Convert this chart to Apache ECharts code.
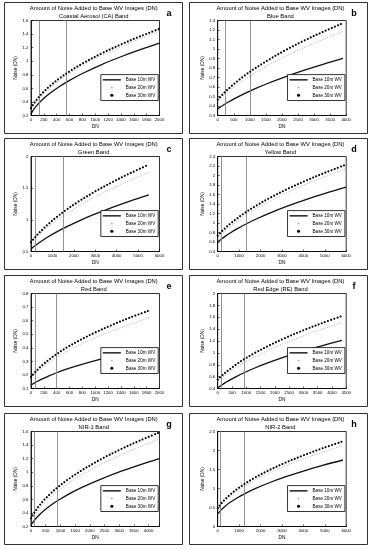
<!DOCTYPE html>
<html><head><meta charset="utf-8">
<script src="https://cdn.jsdelivr.net/npm/echarts@6/dist/echarts.min.js"></script>
<style>html,body{margin:0;padding:0;background:#fff}#c{width:373px;height:550px}</style>
</head><body><div id="c"></div>
<script>
const titleLine1 = 'Amount of Noise Added to Base WV Images (DN)';
const bandNames = ['Coastal Aerosol (CA) Band','Blue Band','Green Band','Yellow Band','Red Band','Red Edge (RE) Band','NIR-1 Band','NIR-2 Band'];
const panelLetters = ['a','b','c','d','e','f','g','h'];
const seriesNames = ['Base 10m WV','Base 20m WV','Base 30m WV'];
const xAxisName = 'DN';
const yAxisName = 'Noise (DN)';

// Panel a
const dnA = [0, 20, 60, 120, 200, 300, 450, 600, 800, 1100, 1400, 1700, 2000];
const a10 = [0.225, 0.257, 0.312, 0.379, 0.454, 0.532, 0.632, 0.718, 0.819, 0.951, 1.066, 1.170, 1.266];
const a20 = [0.270, 0.305, 0.365, 0.439, 0.522, 0.611, 0.723, 0.820, 0.934, 1.083, 1.214, 1.332, 1.440];
const a30 = [0.310, 0.342, 0.398, 0.470, 0.552, 0.639, 0.752, 0.850, 0.965, 1.115, 1.247, 1.367, 1.477];
const xRangeA = [0, 2000, 200], yRangeA = [0.2, 1.6, 0.2], vA = [130, 550];
// Panel b
const dnB = [0, 40, 120, 240, 400, 600, 850, 1150, 1550, 2100, 2700, 3300, 3900];
const b10 = [0.370, 0.379, 0.397, 0.423, 0.454, 0.491, 0.533, 0.580, 0.637, 0.707, 0.777, 0.841, 0.901];
const b20 = [0.450, 0.463, 0.489, 0.526, 0.571, 0.622, 0.681, 0.746, 0.825, 0.922, 1.017, 1.104, 1.185];
const b30 = [0.467, 0.482, 0.511, 0.552, 0.601, 0.658, 0.723, 0.794, 0.880, 0.986, 1.090, 1.184, 1.272];
const xRangeB = [0, 4000, 500], yRangeB = [0.3, 1.3, 0.1], vB = [230, 1000];
// Panel c
const dnC = [0, 55, 165, 330, 550, 825, 1200, 1650, 2200, 3000, 3800, 4650, 5500];
const c10 = [0.542, 0.557, 0.586, 0.627, 0.677, 0.736, 0.809, 0.888, 0.977, 1.093, 1.197, 1.300, 1.394];
const c20 = [0.640, 0.661, 0.700, 0.754, 0.822, 0.899, 0.994, 1.098, 1.213, 1.362, 1.497, 1.628, 1.750];
const c30 = [0.647, 0.671, 0.715, 0.777, 0.853, 0.939, 1.045, 1.159, 1.285, 1.449, 1.596, 1.739, 1.871];
const xRangeC = [0, 6000, 1000], yRangeC = [0.5, 2, 0.5], vC = [220, 1520];
// Panel d
const dnD = [0, 60, 180, 360, 600, 900, 1300, 1800, 2400, 3250, 4150, 5050, 6000];
const d10 = [0.600, 0.622, 0.664, 0.723, 0.795, 0.876, 0.974, 1.084, 1.203, 1.354, 1.497, 1.627, 1.754];
const d20 = [0.678, 0.708, 0.764, 0.841, 0.934, 1.038, 1.163, 1.303, 1.452, 1.641, 1.820, 1.982, 2.141];
const d30 = [0.733, 0.762, 0.819, 0.896, 0.990, 1.096, 1.224, 1.366, 1.520, 1.714, 1.898, 2.066, 2.230];
const xRangeD = [0, 6000, 1000], yRangeD = [0.4, 2.4, 0.2], vD = [170, 1320];
// Panel e
const dnE = [0, 20, 55, 110, 185, 280, 400, 550, 740, 1000, 1270, 1550, 1850];
const e10 = [0.125, 0.131, 0.141, 0.155, 0.173, 0.193, 0.216, 0.242, 0.271, 0.306, 0.339, 0.369, 0.400];
const e20 = [0.180, 0.190, 0.207, 0.231, 0.261, 0.294, 0.330, 0.371, 0.418, 0.474, 0.526, 0.574, 0.623];
const e30 = [0.184, 0.196, 0.216, 0.243, 0.276, 0.313, 0.354, 0.400, 0.451, 0.513, 0.570, 0.624, 0.676];
const xRangeE = [0, 2000, 200], yRangeE = [0.1, 0.8, 0.1], vE = [60, 400];
// Panel f
const dnF = [0, 45, 130, 260, 435, 650, 940, 1300, 1750, 2400, 3050, 3700, 4350];
const f10 = [0.410, 0.426, 0.455, 0.495, 0.546, 0.601, 0.669, 0.745, 0.830, 0.940, 1.038, 1.127, 1.210];
const f20 = [0.520, 0.539, 0.575, 0.625, 0.686, 0.755, 0.839, 0.933, 1.039, 1.174, 1.296, 1.407, 1.510];
const f30 = [0.550, 0.571, 0.610, 0.664, 0.731, 0.806, 0.897, 0.998, 1.112, 1.259, 1.390, 1.509, 1.620];
const xRangeF = [0, 4500, 500], yRangeF = [0.4, 2, 0.2], vF = [130, 940];
// Panel g
const dnG = [0, 45, 130, 260, 435, 650, 900, 1300, 1750, 2400, 3050, 3700, 4360];
const g10 = [0.220, 0.251, 0.300, 0.362, 0.433, 0.506, 0.579, 0.681, 0.779, 0.902, 1.011, 1.108, 1.200];
const g20 = [0.270, 0.308, 0.370, 0.448, 0.536, 0.627, 0.718, 0.844, 0.966, 1.120, 1.254, 1.376, 1.489];
const g30 = [0.320, 0.357, 0.417, 0.496, 0.586, 0.680, 0.775, 0.906, 1.034, 1.196, 1.338, 1.466, 1.585];
const xRangeG = [0, 4370, 500], yRangeG = [0.2, 1.6, 0.2], vG = [110, 900];
// Panel h
const dnH = [0, 60, 175, 350, 585, 880, 1250, 1750, 2350, 3150, 4000, 4900, 5850];
const h10 = [0.330, 0.373, 0.444, 0.535, 0.636, 0.744, 0.860, 0.996, 1.138, 1.304, 1.459, 1.607, 1.750];
const h20 = [0.450, 0.497, 0.576, 0.680, 0.797, 0.924, 1.062, 1.225, 1.394, 1.593, 1.779, 1.958, 2.130];
const h30 = [0.480, 0.528, 0.611, 0.719, 0.842, 0.975, 1.120, 1.290, 1.468, 1.676, 1.872, 2.060, 2.241];
const xRangeH = [0, 6000, 1000], yRangeH = [0, 2.5, 0.5], vH = [140, 1250];

const panels = [
  {dn: dnA, s: [a10, a20, a30], x: xRangeA, y: yRangeA, v: vA},
  {dn: dnB, s: [b10, b20, b30], x: xRangeB, y: yRangeB, v: vB},
  {dn: dnC, s: [c10, c20, c30], x: xRangeC, y: yRangeC, v: vC},
  {dn: dnD, s: [d10, d20, d30], x: xRangeD, y: yRangeD, v: vD},
  {dn: dnE, s: [e10, e20, e30], x: xRangeE, y: yRangeE, v: vE},
  {dn: dnF, s: [f10, f20, f30], x: xRangeF, y: yRangeF, v: vF},
  {dn: dnG, s: [g10, g20, g30], x: xRangeG, y: yRangeG, v: vG},
  {dn: dnH, s: [h10, h20, h30], x: xRangeH, y: yRangeH, v: vH}
];

const W = 373, H = 550;
const colX = [4, 189], rowY = [2, 138, 275, 413], PW = 178, PH = 131;
const FONT = 'Liberation Sans';
const ICONS = [
  'path://M0,0M18,5.5M0,2.05L18,2.05L18,3.45L0,3.45Z',
  'path://M0,0M18,5.5M8.3,2.05L9.7,2.05L9.7,3.45L8.3,3.45Z',
  'path://M0,0M18,5.5M9,1.25A1.5,1.5,0,1,1,9,4.25A1.5,1.5,0,1,1,9,1.25Z'
];
const SERIES_STYLE = [
  {color: '#111', lineStyle: {color: '#111', width: 1.3, type: 'solid'}},
  {color: '#999', lineStyle: {color: '#999', width: 0.9, type: [0.9, 1.6]}},
  {color: '#000', lineStyle: {color: '#000', width: 2.1, type: [0.01, 3.3], cap: 'round'}}
];

const option = {animation: false, backgroundColor: '#fff', grid: [], xAxis: [], yAxis: [], series: [], legend: [], graphic: []};

panels.forEach((p, i) => {
  const c = i % 2, r = Math.floor(i / 2);
  const px = colX[c], py = rowY[r];
  const gl = px + (c ? 28.7 : 27), gt = py + 18.5, gw = 128.5, gh = 95;
  option.graphic.push({type: 'rect', silent: true, z: -10,
    shape: {x: px + 0.5, y: py + 0.5, width: PW, height: PH},
    style: {fill: '#fff', stroke: '#333', lineWidth: 1}});
  option.graphic.push({type: 'text', silent: true, x: gl + gw / 2 - 1.5, y: py + 6.3,
    style: {text: titleLine1, fontSize: 5.8, fontFamily: FONT, fill: '#000', align: 'center', verticalAlign: 'middle', textAlign: 'center', textVerticalAlign: 'middle'}});
  option.graphic.push({type: 'text', silent: true, x: gl + gw / 2 - 1.5, y: py + 14,
    style: {text: bandNames[i], fontSize: 5.8, fontFamily: FONT, fill: '#000', align: 'center', verticalAlign: 'middle', textAlign: 'center', textVerticalAlign: 'middle'}});
  option.graphic.push({type: 'text', silent: true, x: px + 165, y: py + 11.5,
    style: {text: panelLetters[i], fontSize: 9, fontWeight: 'bold', fontFamily: FONT, fill: '#000', align: 'center', verticalAlign: 'middle', textAlign: 'center', textVerticalAlign: 'middle'}});

  option.grid.push({left: gl, top: gt, width: gw, height: gh, show: true, borderColor: '#000', borderWidth: 0.8, backgroundColor: '#fff'});
  const xr = p.x, yr = p.y;
  option.xAxis.push({gridIndex: i, type: 'value', min: xr[0], max: xr[1], interval: xr[2],
    axisLine: {show: true, onZero: false, lineStyle: {color: '#000', width: 0.8}},
    axisTick: {show: true, inside: true, length: 2, lineStyle: {color: '#000', width: 0.6}},
    axisLabel: {fontSize: 4.3, color: '#000', margin: 2.5, fontFamily: FONT,
      formatter: v => (Math.abs(v / xr[2] - Math.round(v / xr[2])) < 1e-6 ? String(v) : '')},
    splitLine: {show: false},
    name: xAxisName, nameLocation: 'middle', nameGap: 8.5,
    nameTextStyle: {fontSize: 4.8, color: '#000', fontFamily: FONT}});
  option.yAxis.push({gridIndex: i, type: 'value', min: yr[0], max: yr[1], interval: yr[2],
    axisLine: {show: true, onZero: false, lineStyle: {color: '#000', width: 0.8}},
    axisTick: {show: true, inside: true, length: 2, lineStyle: {color: '#000', width: 0.6}},
    axisLabel: {fontSize: 4.3, color: '#000', margin: 2.5, fontFamily: FONT},
    splitLine: {show: false},
    name: yAxisName, nameLocation: 'middle', nameGap: 9, nameRotate: 90,
    nameTextStyle: {fontSize: 4.8, color: '#000', fontFamily: FONT}});

  p.s.forEach((vals, k) => {
    const st = SERIES_STYLE[k];
    const ser = {type: 'line', name: seriesNames[k], xAxisIndex: i, yAxisIndex: i,
      data: p.dn.map((d, j) => [d, vals[j]]),
      showSymbol: false, symbol: 'none', smooth: 0.35, silent: true,
      itemStyle: {color: st.color}, lineStyle: st.lineStyle, z: 3 + k};
    if (k === 0) {
      ser.markLine = {silent: true, symbol: ['none', 'none'], label: {show: false},
        lineStyle: {color: '#888', width: 0.9, type: 'solid'},
        data: p.v.map(x => ({xAxis: x}))};
    }
    option.series.push(ser);
  });

  option.legend.push({orient: 'vertical', right: W - (gl + gw) + 1.3, bottom: H - (gt + gh) + 15,
    padding: [2.5, 3, 2.5, 2], itemGap: 2.2, itemWidth: 18, itemHeight: 5.5, itemTextGap: 2,
    borderColor: '#000', borderWidth: 0.8, backgroundColor: '#fff', selectedMode: false,
    textStyle: {fontSize: 4.6, color: '#000', fontFamily: FONT},
    itemStyle: {borderWidth: 0},
    data: seriesNames.map((n, k) => ({name: n, icon: ICONS[k]}))});
});

const chart = echarts.init(document.getElementById('c'), null, {renderer: 'canvas'});
chart.setOption(option);
</script>
</body></html>
